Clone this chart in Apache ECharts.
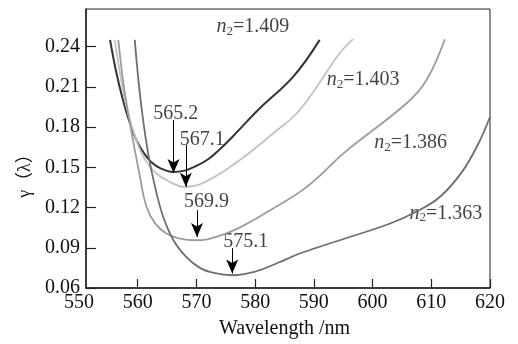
<!DOCTYPE html>
<html>
<head>
<meta charset="utf-8">
<script src="https://cdn.jsdelivr.net/npm/echarts@6/dist/echarts.min.js"></script>
<style>
  html, body { margin: 0; padding: 0; background: #fff; }
  #chart { width: 518px; height: 344px; }
</style>
</head>
<body>
<div id="chart"></div>
<script>
// axis ticks
const xTicks = [550, 560, 570, 580, 590, 600, 610, 620]
const yTicks = [0.06, 0.09, 0.12, 0.15, 0.18, 0.21, 0.24]

// curves, [wavelength nm, gamma]
const curveNames = ['1.409', '1.403', '1.386', '1.363']
const curve1409 = [[555.3, 0.245], [556.3, 0.222], [557.5, 0.200], [558.6, 0.184], [559.8, 0.170], [561.0, 0.161], [562.3, 0.154], [564.0, 0.149], [566.0, 0.1465], [568.0, 0.1475], [570.0, 0.151], [572.0, 0.156], [574.0, 0.1635], [576.2, 0.173], [580.8, 0.194], [586.5, 0.2176], [591.0, 0.245]]
const curve1403 = [[556.1, 0.245], [557.0, 0.220], [558.1, 0.195], [559.2, 0.178], [560.4, 0.163], [561.8, 0.152], [563.2, 0.1454], [565.5, 0.139], [568.0, 0.1354], [570.0, 0.1365], [571.5, 0.139], [575.0, 0.148], [579.1, 0.161], [583.0, 0.175], [587.6, 0.1927], [594.4, 0.235], [596.7, 0.2455]]
const curve1386 = [[556.7, 0.245], [557.5, 0.215], [558.4, 0.190], [559.2, 0.170], [560.3, 0.145], [561.5, 0.1205], [563.0, 0.108], [564.9, 0.1006], [567.0, 0.097], [570.0, 0.0956], [572.0, 0.0965], [575.0, 0.1005], [578.0, 0.1065], [582.0, 0.1165], [588.8, 0.1354], [595.3, 0.1613], [605.8, 0.1977], [609.2, 0.2151], [612.3, 0.2455]]
const curve1363 = [[559.5, 0.245], [560.2, 0.212], [561.0, 0.1828], [561.8, 0.160], [562.7, 0.1404], [564.2, 0.115], [566.1, 0.0956], [568.3, 0.083], [570.6, 0.075], [573.0, 0.0712], [576.1, 0.0695], [580.0, 0.0722], [584.0, 0.079], [587.6, 0.0857], [594.4, 0.0956], [603.0, 0.1081], [607.5, 0.117], [611.5, 0.128], [615.2, 0.1464], [617.9, 0.1666], [620.0, 0.1875]]
const curveColors = ['#333333', '#c2c2c2', '#9c9c9c', '#6e6e6e']

// minimum markers (arrows)
const arrowText = ['565.2', '567.1', '569.9', '575.1']
const arrowX = [566.1, 568.2, 570.1, 576.1]
const arrowTop = [0.1852, 0.1666, 0.118, 0.0897]
const arrowTip = [0.1457, 0.1354, 0.0981, 0.0708]
const arrowLabelPos = [[566.5, 0.190], [571.0, 0.1703], [571.7, 0.1242], [578.4, 0.0943]]

// curve name labels
const curveLabelPos = [[579.6, 0.2547], [598.4, 0.2151], [606.5, 0.1681], [612.5, 0.1157]]

const serif = "'Liberation Serif', 'DejaVu Serif', serif"
const chart = echarts.init(document.getElementById('chart'))
const curves = [curve1409, curve1403, curve1386, curve1363]

const lineSeries = curves.map((data, i) => ({
  name: curveNames[i],
  type: 'line',
  xAxisIndex: 0,
  yAxisIndex: 0,
  smooth: 0.4,
  symbol: 'none',
  lineStyle: { color: curveColors[i], width: i === 0 ? 2 : 1.8 },
  data: data,
  markLine: {
    silent: true,
    symbol: ['none', 'arrow'],
    symbolSize: [9, 14],
    lineStyle: { color: '#000', width: 1, type: 'solid' },
    label: { show: false },
    data: [[{ coord: [arrowX[i], arrowTop[i]] }, { coord: [arrowX[i], arrowTip[i]] }]]
  }
}))

const textSeries = {
  type: 'scatter',
  xAxisIndex: 0,
  yAxisIndex: 0,
  symbolSize: 0,
  silent: true,
  label: {
    show: true,
    position: 'inside',
    color: '#111',
    fontFamily: serif,
    fontSize: 20,
    rich: {
      i: { fontFamily: serif, fontStyle: 'italic', fontSize: 20, color: '#111' },
      s: { fontFamily: serif, fontSize: 13, color: '#111', padding: [9, 0, 0, 0] },
      t: { fontFamily: serif, fontSize: 20, color: '#111' }
    }
  },
  data: arrowLabelPos.map((p, i) => ({ value: p, label: { formatter: arrowText[i] } }))
    .concat(curveLabelPos.map((p, i) => ({ value: p, label: { formatter: '{i|n}{s|2}{t|=' + curveNames[i] + '}' } })))
}

chart.setOption({
  animation: false,
  backgroundColor: '#fff',
  grid: [
    { left: 86, right: 28, top: 9, bottom: 56, show: true, borderColor: '#222', borderWidth: 1 },
    { left: 79, right: 28, top: 9, bottom: 56 }
  ],
  xAxis: [
    {
      gridIndex: 0,
      type: 'value',
      min: 551.2,
      max: 620,
      splitLine: { show: false },
      axisLine: { lineStyle: { color: '#222', width: 1.5 } },
      axisTick: { inside: true, length: 9, lineStyle: { color: '#222', width: 1.2 }, customValues: xTicks.filter(v => v > 551.2) },
      axisLabel: { show: false }
    },
    {
      gridIndex: 1,
      type: 'value',
      min: 550,
      max: 620,
      interval: 10,
      splitLine: { show: false },
      axisLine: { show: false },
      axisTick: { show: false },
      axisLabel: { margin: 9, color: '#111', fontFamily: serif, fontSize: 20, customValues: xTicks },
      name: 'Wavelength /nm',
      nameLocation: 'middle',
      nameGap: 35,
      nameTextStyle: { color: '#111', fontFamily: serif, fontSize: 20 }
    }
  ],
  yAxis: [
    {
      gridIndex: 0,
      type: 'value',
      min: 0.06,
      max: 0.268,
      interval: 0.03,
      splitLine: { show: false },
      axisLine: { lineStyle: { color: '#222', width: 1.5 } },
      axisTick: { inside: true, length: 10, lineStyle: { color: '#222', width: 1.2 }, customValues: yTicks },
      axisLabel: { margin: 6, color: '#111', fontFamily: serif, fontSize: 20, customValues: yTicks, formatter: v => v.toFixed(2) },
      name: 'γ（λ）',
      nameLocation: 'middle',
      nameRotate: 90,
      nameGap: 52,
      nameTextStyle: { color: '#111', fontFamily: "'Liberation Serif', 'Noto Sans CJK SC', serif", fontSize: 18, padding: [0, 46, 0, 0] }
    },
    { gridIndex: 1, type: 'value', min: 0, max: 1, show: false }
  ],
  series: lineSeries.concat([textSeries])
})
</script>
</body>
</html>
